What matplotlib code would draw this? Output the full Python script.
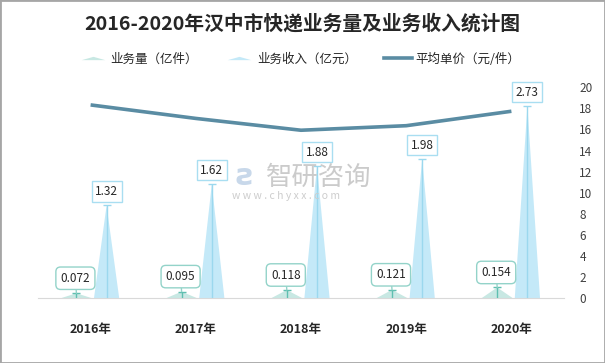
import numpy as np
import matplotlib
matplotlib.use('Agg')
import matplotlib.pyplot as plt
from matplotlib.lines import Line2D
from matplotlib.path import Path
from matplotlib.patches import Rectangle

plt.rcParams['font.family'] = ['Noto Sans CJK SC', 'DejaVu Sans']

# data
years = ['2016年', '2017年', '2018年', '2019年', '2020年']
volume = [0.072, 0.095, 0.118, 0.121, 0.154]      # 业务量（亿件）
revenue = [1.32, 1.62, 1.88, 1.98, 2.73]          # 业务收入（亿元）
unit_price = [18.33, 17.05, 15.93, 16.36, 17.73]  # 平均单价（元/件）
price_ticks = list(range(0, 21, 2))

vol_fill, vol_line, vol_edge = '#c8e8e3', '#5fbfb0', '#93d3c9'
rev_fill, rev_line, rev_edge = '#c4e9f8', '#9bd8ee', '#a9def1'
price_color = '#5a8ca3'

fig = plt.figure(figsize=(6.05, 3.63), dpi=100)
fig.patches.append(Rectangle((0, 0), 1, 1, transform=fig.transFigure, fill=False,
                             edgecolor='#a6a6a6', lw=2))

ax = fig.add_axes([38 / 605, 1 - 298.3 / 363, 526 / 605, 211 / 363])
ax2 = ax.twinx()

x = np.arange(len(years))
xv = x - 0.135
xr = x + 0.152

# spike bars
for xi, v in zip(xv, volume):
    ax.fill([xi - 0.15, xi, xi + 0.15], [0, v, 0], color=vol_fill, lw=0, zorder=2)
for xi, v in zip(xr, revenue):
    ax.fill([xi - 0.12, xi, xi + 0.12], [0, v, 0], color=rev_fill, lw=0, zorder=2)
ax.vlines(xv, 0, volume, color=vol_line, lw=1, zorder=3)
ax.scatter(xv, volume, marker='_', s=30, color=vol_line, lw=1, zorder=3)
ax.vlines(xr, 0, revenue, color=rev_line, lw=1, zorder=3)
ax.scatter(xr, revenue, marker='_', s=30, color=rev_line, lw=1, zorder=3)

# labels
for xi, v in zip(xr, revenue):
    ax.annotate(f'{v:.2f}', (xi, v), xytext=(0, 14), textcoords='offset pixels',
                ha='center', va='center', fontsize=8.5, color='#262626', zorder=5,
                bbox=dict(boxstyle='square,pad=0.3', fc='white', ec=rev_edge, lw=1))
for xi, v in zip(xv, volume):
    ax.annotate(f'{v:.3f}', (xi, v), xytext=(-1, 15), textcoords='offset pixels',
                ha='center', va='center', fontsize=8.5, color='#262626', zorder=5,
                bbox=dict(boxstyle='round,pad=0.4,rounding_size=0.4', fc='white', ec=vol_edge, lw=1),
                arrowprops=dict(arrowstyle='-', color=vol_edge, lw=1, shrinkA=0, shrinkB=0))

ax.set_xlim(-0.5, 4.5)
ax.set_ylim(0, 3.0)
ax.set_xticks(x)
ax.set_xticklabels(years, fontsize=9, fontweight='bold', color='#262626')
ax.tick_params(axis='x', length=0, pad=18)
ax.set_yticks([])
for s in ['top', 'left', 'right']:
    ax.spines[s].set_visible(False)
ax.spines['bottom'].set_color('#d9d9d9')

# line
ax2.plot(x, unit_price, color=price_color, lw=2.6, solid_capstyle='butt', zorder=4)
ax2.set_ylim(0, 20)
ax2.set_yticks(price_ticks)
ax2.tick_params(axis='y', length=0, pad=11, labelsize=8.5, labelcolor='#404040')
for s in ['top', 'left', 'right', 'bottom']:
    ax2.spines[s].set_visible(False)

# watermark
fig.text(266 / 605, 1 - 177 / 363, '智研咨询', fontsize=19, color='#cbcbcb', va='center', ha='left')
fig.text(232 / 605, 1 - 196 / 363, 'w w w . c h y x x . c o m', fontsize=7.5, color='#cdcdcd',
         va='center', ha='left')
fig.text(245 / 605, 1 - 176 / 363, 'ƨ', fontsize=22, color='#c8d8ea', va='center', ha='center',
         fontweight='bold')

# title
fig.text(0.5, 1 - 24 / 363, '2016-2020年汉中市快递业务量及业务收入统计图', ha='center', va='center',
         fontsize=14.2, fontweight='bold', color='#262626')

# legend
tri = Path([(-1, -0.14), (0, 0.14), (1, -0.14), (-1, -0.14)],
           [Path.MOVETO, Path.LINETO, Path.LINETO, Path.CLOSEPOLY])
handles = [
    Line2D([], [], ls='none', marker=tri, markersize=17, color=vol_fill, markeredgewidth=0),
    Line2D([], [], ls='none', marker=tri, markersize=17, color=rev_fill, markeredgewidth=0),
    Line2D([], [], color=price_color, lw=2.6),
]
labels = ['业务量（亿件）', '业务收入（亿元）', '平均单价（元/件）']
fig.legend(handles, labels, loc='center', bbox_to_anchor=(300 / 605, 1 - 59 / 363), ncol=3,
           frameon=False, fontsize=9, handlelength=2.2, handletextpad=0.3,
           columnspacing=2.2, labelcolor='#262626')

fig.savefig('out.png', dpi=100)
